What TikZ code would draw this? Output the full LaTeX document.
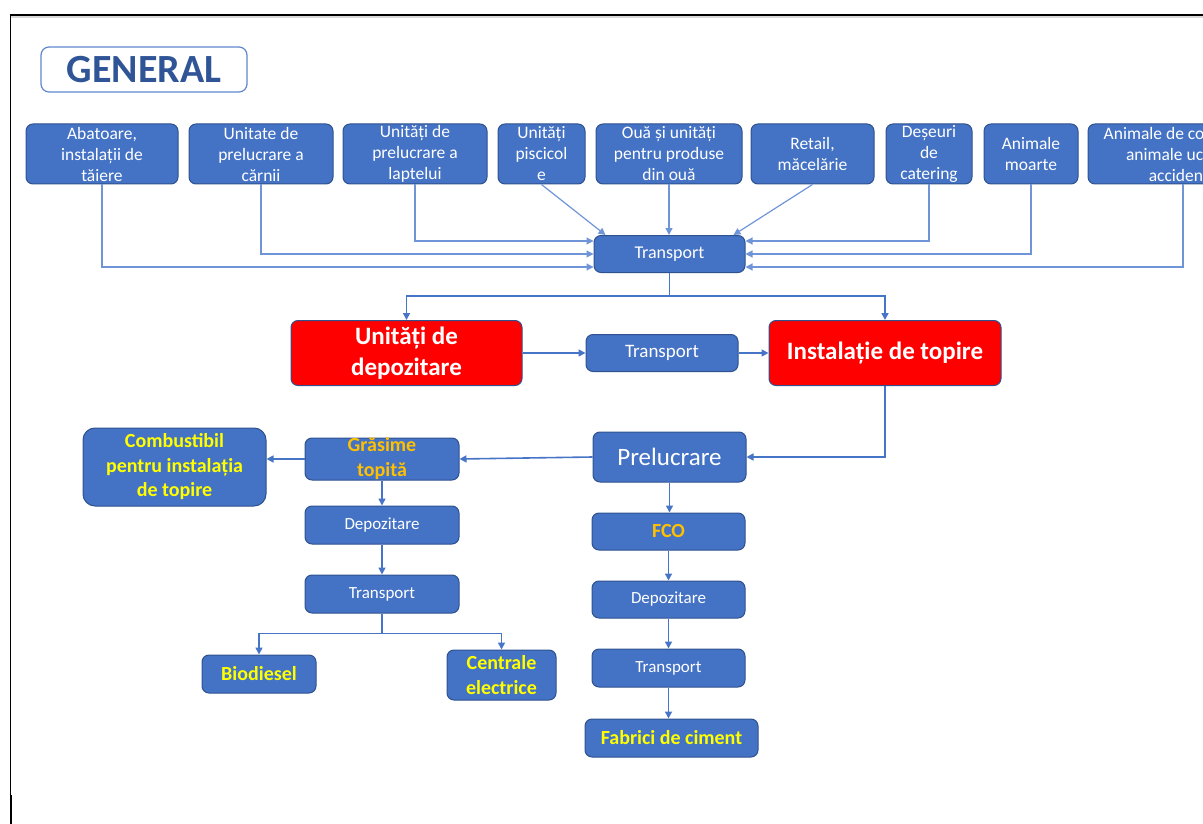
\documentclass[tikz,border=0pt]{standalone}
\usepackage{fontspec}
\setmainfont{Carlito}
\usetikzlibrary{arrows.meta}
\definecolor{boxblue}{HTML}{4472C4}
\definecolor{edgeblue}{HTML}{2F528F}
\definecolor{lineblue}{HTML}{4674C6}
\definecolor{thinblue}{HTML}{6F95D8}
\definecolor{titleblue}{HTML}{2F5597}
\definecolor{goldtext}{HTML}{FFC000}
\definecolor{yellowtext}{HTML}{FFFF00}
\definecolor{alertred}{HTML}{FF0000}

\begin{document}
\begin{tikzpicture}[x=1pt,y=-1pt,
  box/.style={draw=edgeblue, line width=1pt, fill=boxblue, rounded corners=7pt,
              inner sep=0pt, align=center, text=white},
  src/.style={box, minimum height=60pt, font=\fontsize{17.5}{21}\selectfont},
  small/.style={box, font=\fontsize{17}{21}\selectfont},
  redbox/.style={box, fill=alertred, font=\bfseries\fontsize{25}{31}\selectfont,
                 minimum width=231pt, minimum height=65pt},
  goal/.style={box, text=yellowtext, font=\bfseries\fontsize{20}{24.5}\selectfont},
  feed/.style={draw=thinblue, line width=1.2pt, -{Triangle[width=7pt,length=7pt]}},
  link/.style={draw=lineblue, line width=1.6pt, -{Triangle[width=7pt,length=7pt]}}
]
\useasboundingbox (0,0) rectangle (1203,824);
\begin{scope}
\clip (0,0) rectangle (1203,824);

% page frame
\fill[black!15] (11,16.5) rectangle (1203,18.5);
\draw[black, line width=1.3pt] (10,15) -- (1203,15);
\draw[black, line width=1.3pt] (10.5,15) -- (10.5,824);
\draw[black, line width=2.4pt] (11,795) -- (11,824);

% title
\node[draw=boxblue!85, line width=1.2pt, fill=white, rounded corners=8pt,
      minimum width=206pt, minimum height=45pt, inner sep=0pt,
      text=titleblue, font=\bfseries\fontsize{40}{42}\selectfont]
  (title) at (144,69.5) {GENERAL};

% sources
\node[src, minimum width=152pt] (s1) at (102,154) {Abatoare,\\instalații de\\tăiere};
\node[src, minimum width=144pt] (s2) at (261,154) {Unitate de\\prelucrare a\\cărnii};
\node[src, minimum width=144pt] (s3) at (415,154) {Unități de\\prelucrare a\\laptelui};
\node[src, minimum width=87pt]  (s4) at (541.5,154) {Unități\\piscicol\\e};
\node[src, minimum width=146pt] (s5) at (669,154) {Ouă și unități\\pentru produse\\din ouă};
\node[src, minimum width=123pt] (s6) at (812.5,154) {Retail,\\măcelărie};
\node[src, minimum width=86pt]  (s7) at (929,154) {Deșeuri\\de\\catering};
\node[src, minimum width=94pt]  (s8) at (1031,154) {Animale\\moarte};
\node[src, minimum width=190pt] (s9) at (1183,154) {Animale de companie,\\animale ucise în\\accidente};

% first transport
\node[small, minimum width=151pt, minimum height=37pt, font=\fontsize{18}{22}\selectfont]
  (tr1) at (669.5,254) {Transport};

% storage and rendering
\node[redbox] (dep) at (406.5,353) {Unități de\\depozitare};
\node[small, minimum width=152pt, minimum height=37pt, font=\fontsize{19}{23}\selectfont]
  (tr2) at (662,353) {Transport};
\node[redbox, minimum width=232pt] (top) at (885,353) {Instalație de topire};

% processing
\node[box, minimum width=153pt, minimum height=50pt, font=\fontsize{25}{30}\selectfont]
  (prel) at (669.5,457) {Prelucrare};

% melted fat branch
\node[box, minimum width=154pt, minimum height=42pt,
      label={[text=goldtext, font=\bfseries\fontsize{20}{25}\selectfont, align=center]center:Grăsime\\topită}]
  (gr) at (382,459) {};
\node[goal, minimum width=183pt, minimum height=78pt, rounded corners=12pt]
  (comb) at (174.5,467) {Combustibil\\pentru instalația\\de topire};
\node[small, minimum width=154pt, minimum height=38pt] (dep2) at (382,525) {Depozitare};
\node[small, minimum width=154pt, minimum height=38pt] (tr3) at (382,594) {Transport};
\node[goal, minimum width=114pt, minimum height=38pt] (bio) at (259,674) {Biodiesel};
\node[goal, minimum width=109pt, minimum height=50pt] (cen) at (501.5,675) {Centrale\\electrice};

% FCO branch
\node[box, minimum width=153pt, minimum height=37pt, text=goldtext,
      font=\bfseries\fontsize{20}{24}\selectfont] (fco) at (668.5,531.5) {FCO};
\node[small, minimum width=153pt, minimum height=37pt] (dep3) at (668.5,599.5) {Depozitare};
\node[small, minimum width=153pt, minimum height=38pt] (tr4) at (668.5,668) {Transport};
\node[goal, minimum width=173pt, minimum height=38pt] (fab) at (671.5,738) {Fabrici de ciment};

% collection from the sources
\draw[feed] (s1.south) |- ([yshift=-13pt]tr1.west);
\draw[feed] (s2.south) |- (tr1.west);
\draw[feed] (s3.south) |- ([yshift=13pt]tr1.west);
\draw[feed] (s4.south) -- ([xshift=12pt]tr1.north west);
\draw[feed] (s5.south) -- (s5.south |- tr1.north);
\draw[feed] (s6.south) -- ([xshift=-12pt]tr1.north east);
\draw[feed] (s7.south) |- ([yshift=13pt]tr1.east);
\draw[feed] (s8.south) |- (tr1.east);
\draw[feed] (s9.south) |- ([yshift=-13pt]tr1.east);

% main flow
\draw[link] (tr1.south) -- ++(0,23) -| (dep.north);
\draw[link] (tr1.south) -- ++(0,23) -| (top.north);
\draw[link] (dep.east) -- (tr2.west);
\draw[link] (tr2.east) -- (top.west);
\draw[link] (top.south) |- (prel.east);
\draw[link] (prel.west) -- (gr.east);
\draw[link] (gr.west) -- (gr.west -| comb.east);

% melted fat chain
\draw[link] (gr.south) -- (dep2.north);
\draw[link] (dep2.south) -- (tr3.north);
\draw[link] (tr3.south) -- ++(0,20) -| (bio.north);
\draw[link] (tr3.south) -- ++(0,20) -| (cen.north);

% FCO chain
\draw[link] (prel.south) -- (prel.south |- fco.north);
\draw[link] (fco.south) -- (dep3.north);
\draw[link] (dep3.south) -- (tr4.north);
\draw[link] (tr4.south) -- (tr4.south |- fab.north);
\end{scope}
\end{tikzpicture}
\end{document}
